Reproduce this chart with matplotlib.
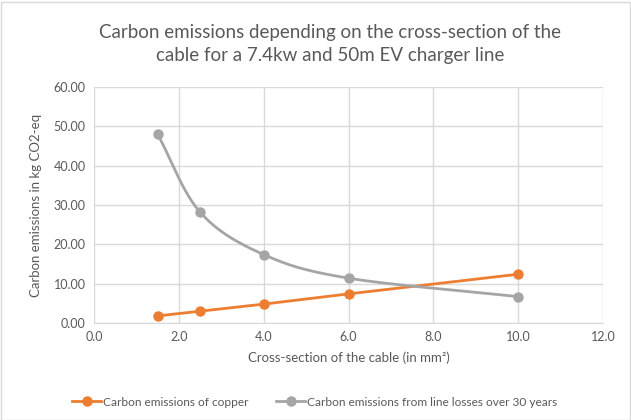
import matplotlib.pyplot as plt
import numpy as np
from matplotlib.patches import Rectangle

# Data
cross_section = [1.5, 2.5, 4.0, 6.0, 10.0]
copper_emissions = [1.8, 3.0, 4.8, 7.4, 12.4]
loss_emissions = [48.0, 28.2, 17.4, 11.4, 6.7]

x_ticks = [0.0, 2.0, 4.0, 6.0, 8.0, 10.0, 12.0]
y_ticks = [0, 10, 20, 30, 40, 50, 60]

ORANGE = "#ED7D31"
GREY = "#A5A5A5"
TEXT = "#595959"
GRID = "#D9D9D9"

plt.rcParams["font.family"] = ["Lato", "DejaVu Sans"]


def smooth(x, y, n=40):
    # Catmull-Rom style smoothing, similar to Excel's smoothed lines
    x = np.asarray(x, float)
    y = np.asarray(y, float)
    px = np.concatenate(([2 * x[0] - x[1]], x, [2 * x[-1] - x[-2]]))
    py = np.concatenate(([2 * y[0] - y[1]], y, [2 * y[-1] - y[-2]]))
    xs, ys = [], []
    t = np.linspace(0, 1, n)
    for i in range(1, len(px) - 2):
        p0, p1, p2, p3 = [np.array([px[j], py[j]]) for j in range(i - 1, i + 3)]
        c1 = p1 + (p2 - p0) / 6
        c2 = p2 - (p3 - p1) / 6
        pts = ((1 - t) ** 3)[:, None] * p1 + (3 * (1 - t) ** 2 * t)[:, None] * c1 \
            + (3 * (1 - t) * t ** 2)[:, None] * c2 + (t ** 3)[:, None] * p2
        xs.extend(pts[:, 0])
        ys.extend(pts[:, 1])
    return np.array(xs), np.array(ys)


fig = plt.figure(figsize=(6.31, 4.2), dpi=100)
ax = fig.add_axes([94 / 631, 1 - 323 / 420, (603 - 94) / 631, (323 - 87) / 420])

ax.plot(cross_section, copper_emissions, color=ORANGE, lw=2, marker="o", ms=6.5,
        label="Carbon emissions of copper", zorder=3)
sx, sy = smooth(cross_section, loss_emissions)
ax.plot(sx, sy, color=GREY, lw=2, zorder=3)
ax.plot(cross_section, loss_emissions, color=GREY, lw=0, marker="o", ms=6.5, zorder=4)
ax.plot([], [], color=GREY, lw=2, marker="o", ms=6.5,
        label="Carbon emissions from line losses over 30 years")

ax.set_xlim(0, 12)
ax.set_ylim(0, 60)
ax.set_xticks(x_ticks)
ax.set_xticklabels([f"{v:.1f}" for v in x_ticks])
ax.set_yticks(y_ticks)
ax.set_yticklabels([f"{v:.2f}" for v in y_ticks])
ax.tick_params(colors=TEXT, labelsize=9, length=0, pad=6)
ax.grid(True, color=GRID, lw=1)
ax.set_axisbelow(True)
for side in ["top", "right", "left"]:
    ax.spines[side].set_visible(False)
ax.spines["bottom"].set_color(GRID)

ax.set_xlabel("Cross-section of the cable (in mm²)", color=TEXT, fontsize=9.5, labelpad=6)
ax.set_ylabel("Carbon emissions in kg CO2-eq", color=TEXT, fontsize=9.5, labelpad=8)

fig.text(0.523, 1 - 44 / 420,
         "Carbon emissions depending on the cross-section of the\ncable for a 7.4kw and 50m EV charger line",
         ha="center", va="center", fontsize=13.5, color=TEXT, linespacing=1.45)

handles, labels = ax.get_legend_handles_labels()
fig.legend(handles, labels, loc="center", bbox_to_anchor=(0.499, 1 - 402 / 420), ncol=2,
           frameon=False, fontsize=8.6, labelcolor=TEXT, handlelength=2.4,
           columnspacing=2.3, handletextpad=0.2)

fig.patches.append(Rectangle((0.5 / 631, 0.5 / 420), 629 / 631, 418 / 420,
                             transform=fig.transFigure, fill=False,
                             edgecolor=GRID, lw=1))

fig.savefig("out.png", dpi=100, facecolor="white")
